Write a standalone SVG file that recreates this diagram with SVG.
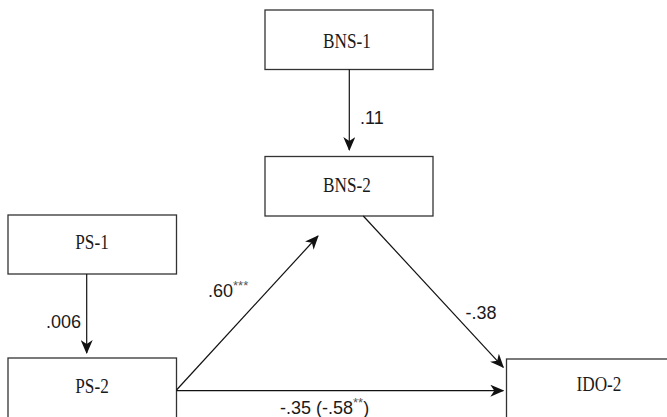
<svg xmlns="http://www.w3.org/2000/svg" width="667" height="417" viewBox="0 0 667 417">
<style>
.box{fill:#fff;stroke:#333;stroke-width:1.3}
.name{font-family:"Liberation Serif",serif;font-size:21px;fill:#1a1a1a;text-anchor:middle}
.lab{font-family:"Liberation Sans",Arial,sans-serif;font-size:18px;fill:#1a1a1a}
.sup{font-size:13px;fill:#555}
.edge{stroke:#111;stroke-width:1.2;fill:none;marker-end:url(#ah)}
</style>
<defs>
<marker id="ah" markerWidth="14" markerHeight="12" viewBox="0 0 14 12" refX="13" refY="6" orient="auto" markerUnits="userSpaceOnUse">
<path d="M0,0 L14,6 L0,12 L4,6 Z" fill="#111"/>
</marker>
</defs>
<rect width="667" height="417" fill="#fff"/>
<g id="BNS-1"><rect class="box" x="265" y="10" width="168" height="59.5"/><text class="name" transform="translate(347,48.3) scale(0.82,1)">BNS-1</text></g>
<g id="BNS-2"><rect class="box" x="265" y="156.5" width="168" height="59.5"/><text class="name" transform="translate(347,191.7) scale(0.82,1)">BNS-2</text></g>
<g id="PS-1"><rect class="box" x="8" y="215" width="168.5" height="59"/><text class="name" transform="translate(92,249) scale(0.82,1)">PS-1</text></g>
<g id="PS-2"><rect class="box" x="8" y="358" width="168.5" height="70"/><text class="name" transform="translate(92,393) scale(0.82,1)">PS-2</text></g>
<g id="IDO-2"><rect class="box" x="506.5" y="359" width="185" height="70"/><text class="name" transform="translate(599,390.7) scale(0.82,1)">IDO-2</text></g>
<g id="connectors">
<line class="edge" x1="349.3" y1="69.5" x2="349.3" y2="150"/>
<line class="edge" x1="86.7" y1="274" x2="86.7" y2="353"/>
<line class="edge" x1="176.5" y1="390" x2="318" y2="236"/>
<line class="edge" x1="363.3" y1="216" x2="503.3" y2="367.3"/>
<line class="edge" x1="176.5" y1="390.7" x2="503.3" y2="390.7"/>
<text class="lab" x="360" y="124">.11</text>
<text class="lab" x="46" y="327.7">.006</text>
<text class="lab" x="208" y="296.7">.60<tspan class="sup" dy="-7">***</tspan></text>
<text class="lab" x="465.5" y="319">-.38</text>
<text class="lab" x="280" y="414">-.35 (-.58<tspan class="sup" dy="-7">**</tspan><tspan dy="7">)</tspan></text>
</g>
</svg>
